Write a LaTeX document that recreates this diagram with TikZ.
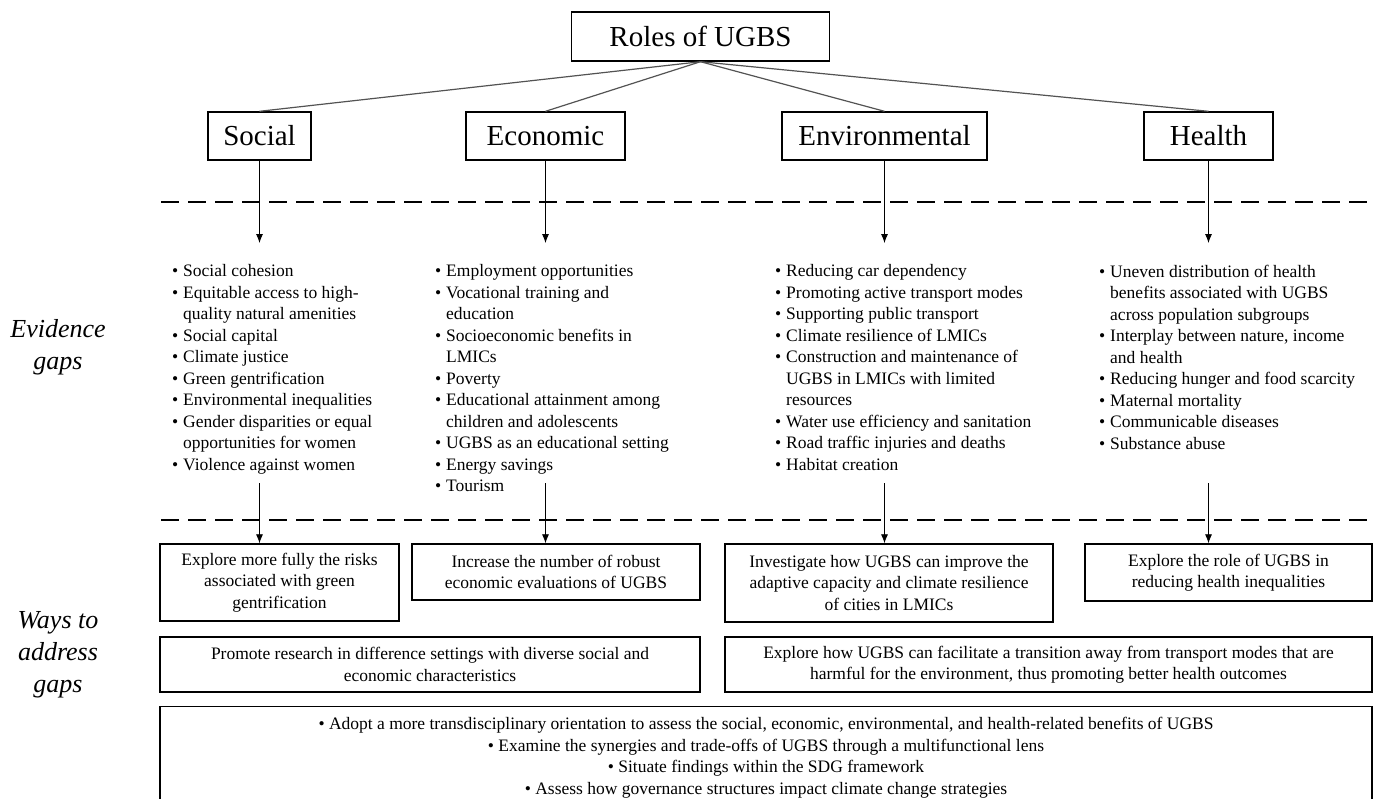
\documentclass[tikz,border=0pt]{standalone}
\usepackage{fontspec}
\setmainfont{Liberation Serif}
\usetikzlibrary{arrows.meta,positioning}
\newcommand{\itm}{\makebox[11pt][l]{\textbullet}}
\newcommand{\cnt}{\hspace*{11pt}}

\begin{document}
\begin{tikzpicture}[x=1pt,y=-1pt,>={Latex[length=9pt,width=7pt]},
    body/.style={font=\fontsize{17.5}{21.5}\selectfont},
    catbox/.style={draw,line width=1.4pt,inner sep=0pt,font=\fontsize{29}{32}\selectfont},
    waybox/.style={draw,line width=1.4pt,inner sep=0pt,align=center,body},
    gaplist/.style={anchor=north west,inner sep=0pt,align=left,body},
    sidelabel/.style={align=center,inner sep=0pt,font=\fontsize{26}{32}\selectfont\itshape},
    link/.style={gray!65!black,line width=1.2pt},
    feed/.style={->,line width=0.8pt},
    gapline/.style={line width=2.2pt,dash pattern=on 18pt off 9pt}]
    \useasboundingbox (0,0) rectangle (1375,798);
    % top level
    \node[catbox,minimum width=258,minimum height=49] (roles) at (700.5,36.5) {Roles of UGBS};
    \node[catbox,minimum width=103,minimum height=48] (soc) at (259.5,136) {Social};
    \node[catbox,minimum width=159,minimum height=48] (eco) at (545.5,136) {Economic};
    \node[catbox,minimum width=205,minimum height=48] (env) at (884.5,136) {Environmental};
    \node[catbox,minimum width=129,minimum height=48] (hea) at (1208.5,136) {Health};
    \foreach \c in {soc,eco,env,hea}
      \draw[link] (roles.south) -- (\c.north);
    % dashed separators
    \coordinate (cutA) at (161,202);
    \coordinate (cutB) at (161,520);
    \draw[gapline] (cutA) -- ++(1214,0);
    \draw[gapline] (cutB) -- ++(1214,0);
    \coordinate (tipA) at (0,243);
    \coordinate (tailB) at (0,483);
    % evidence gaps
    \node[sidelabel] (evid) at (58,347) {Evidence\\gaps};
    \node[gaplist] (socgap) at (172,264.5) {\itm Social cohesion\\ \itm Equitable access to high-\\ \cnt quality natural amenities\\ \itm Social capital\\ \itm Climate justice\\ \itm Green gentrification\\ \itm Environmental inequalities\\ \itm Gender disparities or equal\\ \cnt opportunities for women\\ \itm Violence against women};
    \node[gaplist] (ecogap) at (435,264.5) {\itm Employment opportunities\\ \itm Vocational training and\\ \cnt education\\ \itm Socioeconomic benefits in\\ \cnt LMICs\\ \itm Poverty\\ \itm Educational attainment among\\ \cnt children and adolescents\\ \itm UGBS as an educational setting\\ \itm Energy savings\\ \itm Tourism};
    \node[gaplist] (envgap) at (775,264.5) {\itm Reducing car dependency\\ \itm Promoting active transport modes\\ \itm Supporting public transport\\ \itm Climate resilience of LMICs\\ \itm Construction and maintenance of\\ \cnt UGBS in LMICs with limited\\ \cnt resources\\ \itm Water use efficiency and sanitation\\ \itm Road traffic injuries and deaths\\ \itm Habitat creation};
    \node[gaplist] (heagap) at (1099,264.5) {\itm Uneven distribution of health\\ \cnt benefits associated with UGBS\\ \cnt across population subgroups\\ \itm Interplay between nature, income\\ \cnt and health\\ \itm Reducing hunger and food scarcity\\ \itm Maternal mortality\\ \itm Communicable diseases\\ \itm Substance abuse};
    % ways to address gaps
    \node[sidelabel] (ways) at (58,655) {Ways to\\address\\gaps};
    \node[waybox,minimum width=239,minimum height=77] (socway) at (279.5,582.5) {Explore more fully the risks\\associated with green\\gentrification};
    \node[waybox,minimum width=288,minimum height=56] (ecoway) at (556,572) {Increase the number of robust\\economic evaluations of UGBS};
    \node[waybox,minimum width=328,minimum height=78] (envway) at (889,583) {Investigate how UGBS can improve the\\adaptive capacity and climate resilience\\of cities in LMICs};
    \node[waybox,minimum width=287,minimum height=57] (heaway) at (1228.5,572.5) {Explore the role of UGBS in\\reducing health inequalities};
    \node[waybox,minimum width=540,minimum height=55] (mixway) at (430,664.5) {Promote research in difference settings with diverse social and\\economic characteristics};
    \node[waybox,minimum width=647,minimum height=55] (moveway) at (1048.5,664.5) {Explore how UGBS can facilitate a transition away from transport modes that are\\harmful for the environment, thus promoting better health outcomes};
    \node[waybox,minimum width=1212,minimum height=120,anchor=north] (allway) at (766,706) {};
    \node[anchor=north,inner sep=0pt,align=center,body] (alltext) at (766,717) {\textbullet{} Adopt a more transdisciplinary orientation to assess the social, economic, environmental, and health-related benefits of UGBS\\ \textbullet{} Examine the synergies and trade-offs of UGBS through a multifunctional lens\\ \textbullet{} Situate findings within the SDG framework\\ \textbullet{} Assess how governance structures impact climate change strategies};
    % arrows
    \foreach \c in {soc,eco,env,hea}{
      \draw[feed] (\c.south) -- (\c.south |- tipA);
      \draw[feed] (\c.south |- tailB) -- (\c.south |- \c way.north);
    }
\end{tikzpicture}
\end{document}
